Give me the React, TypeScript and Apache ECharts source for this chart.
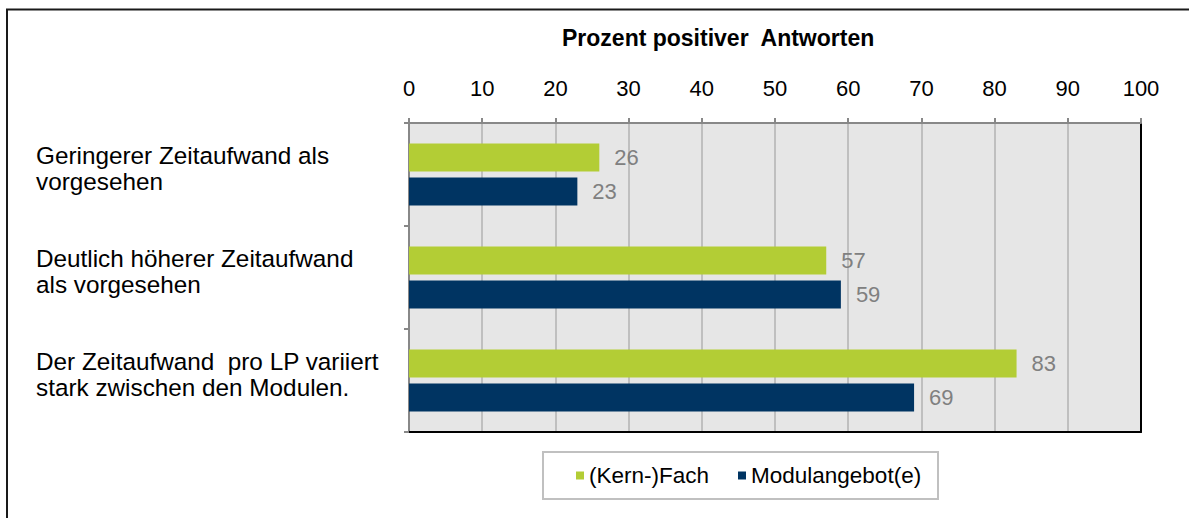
import React, { useEffect, useRef } from "react";
import * as echarts from "echarts";

const categories = [
  "Geringerer Zeitaufwand als\nvorgesehen",
  "Deutlich höherer Zeitaufwand\nals vorgesehen",
  "Der Zeitaufwand  pro LP variiert\nstark zwischen den Modulen.",
];
const seriesNames = ["(Kern-)Fach", "Modulangebot(e)"];
const kernFach = [26, 57, 83];
const modulangebot = [23, 59, 69];
const axisTitle = "Prozent positiver  Antworten";

const FONT = "'Liberation Sans', Arial, sans-serif";

export default function App() {
  const ref = useRef<HTMLDivElement>(null);
  useEffect(() => {
    document.body.style.margin = "0";
    if (!ref.current) return;
    const chart = echarts.init(ref.current, undefined, { renderer: "svg" });
    const grid = { left: 409, top: 123, width: 732, height: 309 };
    chart.setOption({
      animation: false,
      backgroundColor: "#ffffff",
      textStyle: { fontFamily: FONT },
      title: {
        text: axisTitle,
        left: 562,
        top: 26,
        padding: 0,
        textStyle: { fontFamily: FONT, fontSize: 23, fontWeight: "bold", color: "#000" },
      },
      graphic: [
        {
          type: "rect",
          shape: { x: 7, y: 9.5, width: 1300, height: 700 },
          style: { fill: "none", stroke: "#1a1a1a", lineWidth: 2 },
          z: -10,
        },
        {
          type: "rect",
          shape: { x: 543, y: 452, width: 395, height: 47 },
          style: { fill: "#fff", stroke: "#c0c0c0", lineWidth: 2 },
          z: -5,
        },
      ],
      legend: {
        data: seriesNames,
        left: 576,
        top: 464,
        padding: 0,
        itemWidth: 8,
        itemHeight: 8,
        itemGap: 29,
        icon: "rect",
        textStyle: { fontFamily: FONT, fontSize: 22.5, color: "#000" },
      },
      grid: {
        ...grid,
        show: true,
        backgroundColor: "#e6e6e6",
        borderWidth: 0,
      },
      xAxis: [
        {
          type: "value",
          position: "top",
          min: 0,
          max: 100,
          interval: 10,
          axisLine: { show: true, lineStyle: { color: "#888", width: 2 } },
          axisTick: { show: true, length: 5, lineStyle: { color: "#888", width: 2 } },
          axisLabel: { fontFamily: FONT, fontSize: 22, color: "#000", margin: 24 },
          splitLine: { show: true, lineStyle: { color: "#bfbfbf", width: 2 } },
        },
        {
          type: "value",
          position: "bottom",
          min: 0,
          max: 100,
          interval: 10,
          axisLine: { show: true, onZero: false, lineStyle: { color: "#000", width: 2 } },
          axisTick: { show: false },
          axisLabel: { show: false },
          splitLine: { show: false },
        },
      ],
      yAxis: [
        {
          type: "category",
          data: categories,
          inverse: true,
          position: "left",
          axisLine: { show: true, onZero: false, lineStyle: { color: "#888", width: 2 } },
          axisTick: { show: true, length: 5, lineStyle: { color: "#888", width: 2 } },
          axisLabel: {
            fontFamily: FONT,
            fontSize: 24.3,
            color: "#000",
            align: "left",
            margin: 373,
            lineHeight: 26,
            formatter: (v: string) =>
              v
                .split("\n")
                .map((l) => `{t|${l}}`)
                .join("\n") + "\n{s| }",
            rich: {
              t: { fontFamily: FONT, fontSize: 24.3, color: "#000", lineHeight: 26 },
              s: { fontSize: 4, lineHeight: 12 },
            },
          },
        },
        {
          type: "category",
          data: categories,
          inverse: true,
          position: "right",
          axisLine: { show: true, onZero: false, lineStyle: { color: "#000", width: 2 } },
          axisTick: { show: false },
          axisLabel: { show: false },
        },
      ],
      series: [
        {
          name: seriesNames[0],
          type: "bar",
          data: kernFach,
          barWidth: 28,
          barGap: "21%",
          itemStyle: { color: "#b3cd35" },
          label: {
            show: true,
            position: "right",
            distance: 15,
            fontFamily: FONT,
            fontSize: 22,
            color: "#808080",
          },
        },
        {
          name: seriesNames[1],
          type: "bar",
          data: modulangebot,
          barWidth: 28,
          barGap: "21%",
          itemStyle: { color: "#003462" },
          label: {
            show: true,
            position: "right",
            distance: 15,
            fontFamily: FONT,
            fontSize: 22,
            color: "#808080",
          },
        },
      ],
    });
    return () => chart.dispose();
  }, []);
  return <div ref={ref} style={{ width: 1189, height: 518 }} />;
}
